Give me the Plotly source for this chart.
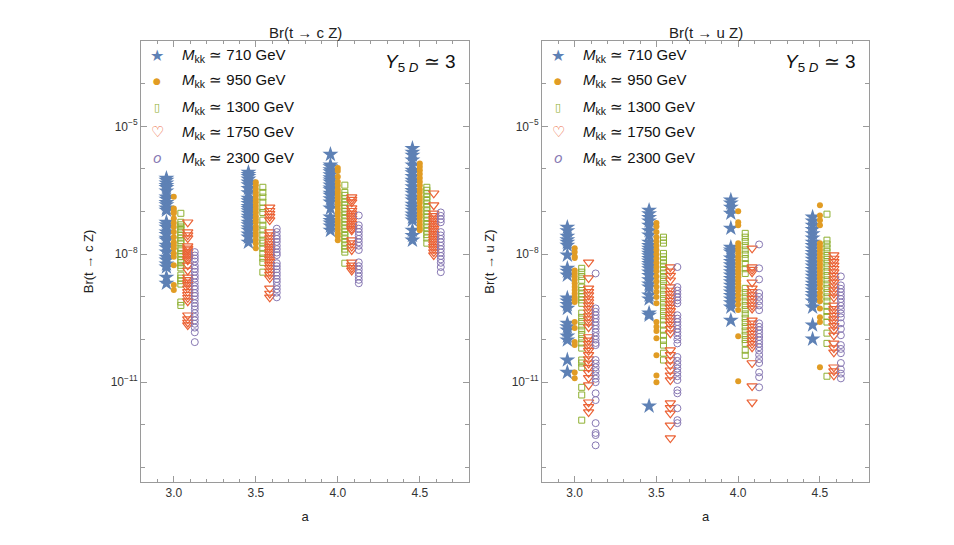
import plotly.graph_objects as go

a_vals = [3.0, 3.5, 4.0, 4.5]
mass_labels = ["710", "950", "1300", "1750", "2300"]

# log10 Br(t -> c Z), one list per value of a (3.0, 3.5, 4.0, 4.5)
cz_710 = [
    [-6.22, -6.27, -6.33, -6.39, -6.44, -6.52, -6.66, -6.71, -6.79, -6.84, -6.92, -6.97, -7.25, -7.31,
     -7.37, -7.48, -7.54, -7.63, -7.67, -7.79, -7.85, -7.95, -8.07, -8.14, -8.23, -8.30, -8.54, -8.68],
    [-6.08, -6.13, -6.18, -6.24, -6.31, -6.37, -6.46, -6.56, -6.69, -6.75, -6.81, -6.88, -6.93, -6.98,
     -7.04, -7.11, -7.17, -7.25, -7.31, -7.38, -7.44, -7.53, -7.60, -7.72],
    [-5.66, -5.91, -5.95, -6.02, -6.07, -6.14, -6.21, -6.26, -6.31, -6.38, -6.45, -6.49, -6.57, -6.62,
     -6.70, -6.78, -6.92, -7.13, -7.21, -7.27, -7.34, -7.44],
    [-5.52, -5.61, -5.68, -5.79, -5.91, -6.03, -6.09, -6.18, -6.27, -6.33, -6.42, -6.51, -6.57, -6.66,
     -6.73, -6.83, -6.90, -6.97, -7.06, -7.13, -7.20, -7.44, -7.56, -7.67],
]
cz_950 = [
    [-6.65, -6.93, -6.99, -7.04, -7.16, -7.27, -7.36, -7.48, -7.60, -7.72, -7.79, -7.86, -7.98, -8.06,
     -8.26, -8.72, -8.84],
    [-6.31, -6.38, -6.47, -6.55, -6.62, -6.71, -6.78, -6.86, -6.94, -7.02, -7.11, -7.18, -7.25, -7.35,
     -7.42, -7.50, -7.57, -7.66, -7.75, -7.86],
    [-5.98, -6.05, -6.18, -6.30, -6.39, -6.48, -6.55, -6.63, -6.70, -6.78, -6.85, -6.94, -7.02, -7.10,
     -7.19, -7.26, -7.34, -7.42, -7.51, -7.58, -7.67],
    [-5.87, -5.95, -6.03, -6.12, -6.21, -6.30, -6.39, -6.48, -6.56, -6.65, -6.72, -6.80, -6.90, -6.98,
     -7.06, -7.13, -7.22, -7.30, -7.38, -7.44],
]
cz_1300 = [
    [-7.04, -7.25, -7.31, -7.36, -7.42, -7.48, -7.55, -7.62, -7.68, -7.74, -7.86, -7.92, -7.98, -8.05,
     -8.14, -8.20, -8.26, -8.32, -8.49, -8.56, -8.62, -8.70, -9.12, -9.20],
    [-6.43, -6.55, -6.66, -6.78, -6.92, -7.02, -7.20, -7.32, -7.43, -7.55, -7.67, -7.74, -7.86, -7.98,
     -8.09, -8.19, -8.42],
    [-6.38, -6.55, -6.62, -6.70, -6.78, -6.85, -6.92, -7.00, -7.08, -7.16, -7.24, -7.32, -7.40, -7.48,
     -7.56, -7.64, -7.72, -7.80, -7.88, -7.95, -8.21],
    [-6.43, -6.50, -6.58, -6.66, -6.74, -6.82, -6.90, -6.98, -7.06, -7.14, -7.22, -7.30, -7.38, -7.46,
     -7.54, -7.62, -7.74],
]
cz_1750 = [
    [-7.25, -7.48, -7.55, -7.62, -7.81, -7.86, -7.90, -7.95, -8.00, -8.05, -8.10, -8.14, -8.26, -8.38,
     -8.54, -8.60, -8.66, -8.72, -8.80, -8.88, -8.95, -9.02, -9.10, -9.43, -9.52, -9.60, -9.66],
    [-6.90, -6.98, -7.05, -7.12, -7.20, -7.48, -7.55, -7.62, -7.70, -7.76, -7.82, -7.88, -7.94, -8.00,
     -8.06, -8.12, -8.18, -8.25, -8.32, -8.40, -8.48, -8.56, -8.80, -8.92, -9.01],
    [-6.66, -6.72, -6.78, -6.92, -6.98, -7.04, -7.10, -7.16, -7.22, -7.28, -7.34, -7.40, -7.44, -7.67,
     -7.74, -7.82, -7.90, -8.19, -8.26, -8.32, -8.38],
    [-6.57, -6.85, -7.04, -7.10, -7.16, -7.22, -7.28, -7.34, -7.40, -7.46, -7.52, -7.58, -7.64, -7.70,
     -7.76, -7.82, -7.88, -7.95, -8.02],
]
cz_2300 = [
    [-7.95, -8.03, -8.10, -8.17, -8.27, -8.34, -8.41, -8.50, -8.57, -8.66, -8.75, -8.82, -8.91, -8.98,
     -9.06, -9.15, -9.22, -9.29, -9.38, -9.47, -9.55, -9.63, -9.72, -9.83, -10.06],
    [-7.40, -7.48, -7.57, -7.64, -7.71, -7.80, -7.88, -7.96, -8.02, -8.21, -8.28, -8.35, -8.43, -8.50,
     -8.58, -8.65, -8.74, -8.82, -8.90, -9.01],
    [-7.09, -7.32, -7.40, -7.48, -7.56, -7.64, -7.72, -7.80, -7.90, -8.19, -8.28, -8.36, -8.44, -8.52,
     -8.60, -8.68],
    [-7.02, -7.10, -7.18, -7.25, -7.48, -7.56, -7.64, -7.72, -7.80, -7.88, -7.96, -8.04, -8.12, -8.20,
     -8.30, -8.42],
]

# log10 Br(t -> u Z)
uz_710 = [
    [-7.37, -7.45, -7.58, -7.66, -7.72, -7.79, -8.02, -8.33, -8.40, -8.49, -9.03, -9.10, -9.18, -9.27,
     -9.62, -9.70, -9.78, -9.92, -10.01, -10.48, -10.77],
    [-6.97, -7.05, -7.14, -7.22, -7.32, -7.45, -7.55, -7.72, -7.80, -7.86, -7.92, -7.98, -8.04, -8.10,
     -8.16, -8.22, -8.28, -8.34, -8.42, -8.50, -8.60, -8.70, -8.77, -8.96, -9.05, -9.38, -9.43, -11.56],
    [-6.73, -6.80, -6.90, -7.04, -7.39, -7.84, -7.90, -7.95, -8.09, -8.17, -8.25, -8.33, -8.41, -8.49,
     -8.57, -8.65, -8.73, -8.81, -8.89, -8.97, -9.05, -9.14, -9.24, -9.55],
    [-7.13, -7.22, -7.32, -7.42, -7.52, -7.62, -7.72, -7.80, -7.88, -7.96, -8.04, -8.12, -8.20, -8.28,
     -8.36, -8.44, -8.52, -8.60, -8.68, -8.76, -8.84, -8.92, -9.00, -9.10, -9.24, -9.66, -9.99],
]
uz_950 = [
    [-7.86, -7.95, -8.05, -8.09, -8.38, -8.45, -8.52, -8.60, -8.68, -8.76, -8.84, -8.92, -9.00, -9.06,
     -9.12, -9.59, -9.73, -10.06, -10.13, -10.77, -10.91],
    [-7.27, -7.35, -7.48, -7.60, -7.70, -7.80, -7.90, -8.00, -8.10, -8.20, -8.30, -8.40, -8.52, -8.64,
     -8.76, -8.88, -9.00, -9.15, -9.59, -9.70, -9.80, -9.97, -10.37, -10.84, -11.00],
    [-6.99, -7.25, -7.32, -7.74, -7.82, -7.90, -7.98, -8.06, -8.14, -8.22, -8.30, -8.38, -8.46, -8.54,
     -8.62, -8.70, -8.78, -8.86, -8.96, -9.06, -9.18, -9.31, -9.92, -10.98],
    [-6.85, -7.09, -7.20, -7.32, -7.74, -7.82, -7.90, -7.98, -8.06, -8.14, -8.22, -8.30, -8.38, -8.46,
     -8.54, -8.62, -8.70, -8.80, -8.90, -9.00, -9.10, -9.27, -9.48, -9.59, -10.65],
]
uz_1300 = [
    [-8.33, -8.42, -8.52, -8.61, -8.77, -8.85, -8.93, -9.00, -9.07, -9.15, -9.38, -9.48, -9.58, -9.68,
     -9.78, -9.88, -9.98, -10.08, -10.20, -10.48, -10.55, -10.65, -11.12, -11.30, -11.89],
    [-7.60, -7.67, -7.74, -7.98, -8.06, -8.14, -8.22, -8.30, -8.38, -8.46, -8.55, -8.64, -8.74, -8.84,
     -8.94, -9.04, -9.14, -9.24, -9.34, -9.44, -9.54, -9.66, -9.78, -9.90, -10.02, -10.13, -10.32, -10.48],
    [-7.51, -7.60, -7.70, -7.80, -7.90, -8.00, -8.10, -8.22, -8.34, -8.45, -8.80, -8.90, -9.00, -9.10,
     -9.20, -9.30, -9.40, -9.50, -9.60, -9.70, -9.80, -9.90, -10.00, -10.09, -10.25, -10.37],
    [-7.06, -7.67, -7.76, -7.85, -7.94, -8.03, -8.12, -8.21, -8.30, -8.40, -8.50, -8.60, -8.70, -8.80,
     -8.90, -9.00, -9.10, -9.22, -9.34, -9.46, -9.59, -9.85, -10.09, -10.86],
]
uz_1750 = [
    [-8.19, -8.56, -8.80, -8.88, -8.96, -9.05, -9.12, -9.20, -9.28, -9.36, -9.45, -9.52, -9.60, -9.71,
     -9.94, -10.02, -10.10, -10.18, -10.26, -10.36, -10.46, -10.56, -10.66, -10.78, -10.90, -11.07,
     -11.47, -11.58, -11.70],
    [-8.30, -8.40, -8.50, -8.61, -8.77, -8.85, -8.93, -9.01, -9.09, -9.17, -9.25, -9.33, -9.41, -9.49,
     -9.57, -9.65, -9.75, -9.85, -10.25, -10.36, -10.48, -10.60, -10.72, -10.84, -10.95, -11.49,
     -11.60, -11.73, -12.01, -12.31],
    [-7.86, -8.30, -8.36, -8.42, -8.66, -8.80, -8.88, -8.96, -9.04, -9.12, -9.20, -9.27, -9.55, -9.62,
     -9.70, -9.78, -9.86, -9.94, -10.02, -10.10, -10.18, -10.55, -11.09, -11.47],
    [-8.02, -8.10, -8.18, -8.26, -8.34, -8.42, -8.50, -8.58, -8.66, -8.75, -8.84, -8.92, -9.01, -9.20,
     -9.28, -9.36, -9.44, -9.52, -9.60, -9.68, -9.78, -9.90, -10.09, -10.20, -10.30, -10.65, -10.74,
     -10.84],
]
uz_2300 = [
    [-8.45, -9.27, -9.35, -9.43, -9.51, -9.59, -9.67, -9.75, -9.83, -9.92, -10.00, -10.08, -10.13,
     -10.48, -10.56, -10.65, -10.74, -10.84, -10.92, -11.00, -11.26, -11.42, -11.96, -12.19, -12.24, -12.48],
    [-8.30, -8.77, -8.85, -8.93, -9.01, -9.08, -9.15, -9.43, -9.51, -9.59, -9.67, -9.75, -9.83, -9.91,
     -10.00, -10.09, -10.41, -10.50, -10.59, -10.68, -10.77, -10.86, -10.95, -11.19, -11.26, -11.61,
     -11.89, -11.96],
    [-7.77, -8.33, -8.59, -8.91, -9.00, -9.10, -9.20, -9.31, -9.62, -9.70, -9.78, -9.86, -9.94, -10.02,
     -10.10, -10.18, -10.26, -10.36, -10.46, -10.55, -10.77, -10.88, -11.12],
    [-8.52, -8.73, -8.81, -8.89, -8.97, -9.05, -9.13, -9.21, -9.30, -9.39, -9.48, -9.62, -9.75, -9.90,
     -10.13, -10.22, -10.32, -10.55, -10.70, -10.80, -10.91],
]

panels = [
    [cz_710, cz_950, cz_1300, cz_1750, cz_2300],
    [uz_710, uz_950, uz_1300, uz_1750, uz_2300],
]

colors = ["#5E81B5", "#E19C24", "#8FB032", "#EB6235", "#8778B3"]
x_shift = [-0.045, 0.0, 0.043, 0.085, 0.128]
FONT = "Liberation Sans, Arial, sans-serif"

markers = [
    dict(symbol="star", size=12, color=colors[0], line=dict(width=0)),
    dict(symbol="circle", size=6, color=colors[1], line=dict(width=0)),
    dict(symbol="square-open", size=6, color=colors[2], line=dict(width=1)),
    dict(symbol="triangle-down-open", size=9, color=colors[3], line=dict(width=1.2)),
    dict(symbol="circle-open", size=7, color=colors[4], line=dict(width=1)),
]

fig = go.Figure()

for p, series in enumerate(panels):
    xa = "x" if p == 0 else "x2"
    ya = "y" if p == 0 else "y2"
    for k, groups in enumerate(series):
        xs, ys = [], []
        for a, vals in zip(a_vals, groups):
            for v in vals:
                xs.append(a + x_shift[k])
                ys.append(10 ** v)
        fig.add_trace(go.Scatter(x=xs, y=ys, mode="markers", marker=markers[k],
                                 xaxis=xa, yaxis=ya, showlegend=False))

axis_col = "#9a9a9a"
xax = dict(range=[2.8, 4.8], tickvals=a_vals, ticktext=["3.0", "3.5", "4.0", "4.5"],
           ticks="inside", ticklen=6, tickcolor=axis_col, showline=True, linecolor=axis_col,
           mirror="ticks", showgrid=False, zeroline=False,
           minor=dict(dtick=0.1, tick0=0, ticks="inside", ticklen=3, tickcolor=axis_col, showgrid=False),
           tickfont=dict(size=12, color="#333", family=FONT),
           title=dict(text="a", font=dict(size=13, color="#222", family=FONT), standoff=12))
yax = dict(type="log", range=[-13.34, -3.0], tickvals=[1e-5, 1e-8, 1e-11],
           ticktext=["10<sup>−5</sup>", "10<sup>−8</sup>", "10<sup>−11</sup>"],
           ticks="inside", ticklen=6, tickcolor=axis_col, showline=True, linecolor=axis_col,
           mirror="ticks", showgrid=False, zeroline=False,
           minor=dict(tickvals=[1e-4, 1e-6, 1e-7, 1e-9, 1e-10, 1e-12, 1e-13], ticks="inside",
                      ticklen=4, tickcolor=axis_col, showgrid=False),
           tickfont=dict(size=12, color="#333", family=FONT))

fig.update_layout(
    width=954, height=545, margin=dict(l=0, r=0, t=0, b=0),
    paper_bgcolor="white", plot_bgcolor="white", showlegend=False,
    xaxis=dict(xax, domain=[141 / 954, 469 / 954], anchor="y"),
    yaxis=dict(yax, domain=[1 - 482 / 545, 1 - 41 / 545], anchor="x",
               title=dict(text="Br(t → c Z)", font=dict(size=13, color="#222", family=FONT), standoff=14)),
    xaxis2=dict(xax, domain=[542 / 954, 869 / 954], anchor="y2"),
    yaxis2=dict(yax, domain=[1 - 482 / 545, 1 - 41 / 545], anchor="x2",
                title=dict(text="Br(t → u Z)", font=dict(size=13, color="#222", family=FONT), standoff=14)),
)

# panel titles, Y5D labels and hand-placed legends
titles = ["Br(t → c Z)", "Br(t → u Z)"]
left_px = [141, 542]
right_px = [469, 869]
symbols = ["★", "●", "▯", "♡", "<i>o</i>"]
sym_sizes = [16, 9, 11, 15, 14]
row_y = [55, 81, 107, 132, 158]
for p in range(2):
    cx = (left_px[p] + right_px[p]) / 2
    fig.add_annotation(x=cx / 954, y=1 - 32 / 545, xref="paper", yref="paper", text=titles[p],
                       xanchor="center", yanchor="middle", showarrow=False,
                       font=dict(size=15, color="#222", family=FONT))
    fig.add_annotation(x=(right_px[p] - 49) / 954, y=1 - 63 / 545, xref="paper", yref="paper",
                       text="<i>Y</i><sub>5 <i>D</i></sub> ≃ 3", showarrow=False,
                       xanchor="center", yanchor="middle",
                       font=dict(size=19, color="#111", family=FONT))
    for k in range(5):
        fig.add_annotation(x=(left_px[p] + 16) / 954, y=1 - row_y[k] / 545, xref="paper", yref="paper",
                           text=symbols[k], showarrow=False, xanchor="center", yanchor="middle",
                           font=dict(size=sym_sizes[k], color=colors[k], family="DejaVu Sans"))
        fig.add_annotation(x=(left_px[p] + 39) / 954, y=1 - row_y[k] / 545, xref="paper", yref="paper",
                           xanchor="left", yanchor="middle", showarrow=False,
                           text="<i>M</i><sub>kk</sub> ≃ " + mass_labels[k] + " GeV",
                           font=dict(size=15, color="#111", family=FONT))

fig.write_html("out.html", config={"displayModeBar": False},
               post_script="document.body.style.margin = '0';")
